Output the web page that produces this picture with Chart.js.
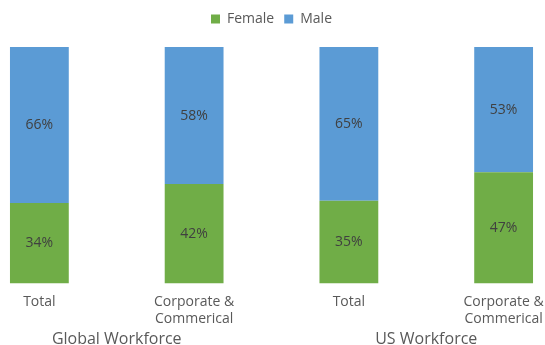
<!DOCTYPE html>
<html>
<head>
<meta charset="utf-8">
<script src="https://cdn.jsdelivr.net/npm/chart.js@4"></script>
<style>
  html, body { margin: 0; padding: 0; background: #fff; overflow: hidden; }
  #wrap { position: relative; width: 545px; height: 345px; overflow: hidden; }
  #box { position: absolute; left: -38px; top: 0; width: 619px; height: 345px; }
</style>
</head>
<body>
<div id="wrap"><div id="box"><canvas id="workforce"></canvas></div></div>
<script>
const categories = ["Total", ["Corporate &", "Commerical"], "Total", ["Corporate &", "Commerical"]];
const groups = ["Global Workforce", "US Workforce"];
const female = [34, 42, 35, 47];
const male = [66, 58, 65, 53];

const FONT = "'Open Sans', 'Noto Sans', sans-serif";

// draws the % values in the middle of every bar segment
const barLabels = {
  id: "barLabels",
  afterDatasetsDraw(chart) {
    const ctx = chart.ctx;
    ctx.save();
    ctx.font = "14px " + FONT;
    ctx.fillStyle = "#404040";
    ctx.textAlign = "center";
    ctx.textBaseline = "middle";
    chart.data.datasets.forEach((ds, i) => {
      chart.getDatasetMeta(i).data.forEach((bar, j) => {
        const mid = (bar.y + bar.base) / 2;
        ctx.fillText(ds.data[j] + "%", bar.x, mid);
      });
    });
    ctx.restore();
  },
};

// group names under each pair of categories
const groupLabels = {
  id: "groupLabels",
  afterDraw(chart) {
    const ctx = chart.ctx;
    const x = chart.scales.x;
    ctx.save();
    ctx.font = "16px " + FONT;
    ctx.fillStyle = "#595959";
    ctx.textAlign = "center";
    ctx.textBaseline = "middle";
    groups.forEach((g, i) => {
      const cx = (x.getPixelForValue(i * 2) + x.getPixelForValue(i * 2 + 1)) / 2;
      ctx.fillText(g, cx, chart.chartArea.bottom + 56);
    });
    ctx.restore();
  },
};

// a bit more room between the legend and the bars
const legendGap = {
  id: "legendGap",
  beforeInit(chart) {
    const fit = chart.legend.fit;
    chart.legend.fit = function () {
      fit.bind(chart.legend)();
      this.height += 11;
    };
  },
};

const ctx = document.getElementById("workforce");

new Chart(ctx, {
  type: "bar",
  data: {
    labels: categories,
    datasets: [
      {
        label: "Female",
        data: female,
        backgroundColor: "#70AD47",
        categoryPercentage: 1,
        barPercentage: 0.38,
      },
      {
        label: "Male",
        data: male,
        backgroundColor: "#5B9BD5",
        categoryPercentage: 1,
        barPercentage: 0.38,
      },
    ],
  },
  options: {
    responsive: true,
    maintainAspectRatio: false,
    animation: false,
    layout: { padding: { top: 2, bottom: 8 } },
    plugins: {
      legend: {
        position: "top",
        labels: {
          boxWidth: 9,
          boxHeight: 9,
          padding: 10,
          color: "#595959",
          font: { family: FONT, size: 14 },
        },
      },
      tooltip: { enabled: false },
    },
    scales: {
      x: {
        stacked: true,
        grid: { display: false, drawTicks: false },
        border: { display: false },
        ticks: {
          color: "#595959",
          font: { family: FONT, size: 14 },
          maxRotation: 0,
          padding: 10,
        },
      },
      y: {
        stacked: true,
        min: 0,
        max: 100,
        display: false,
      },
    },
  },
  plugins: [barLabels, groupLabels, legendGap],
});
</script>
</body>
</html>
